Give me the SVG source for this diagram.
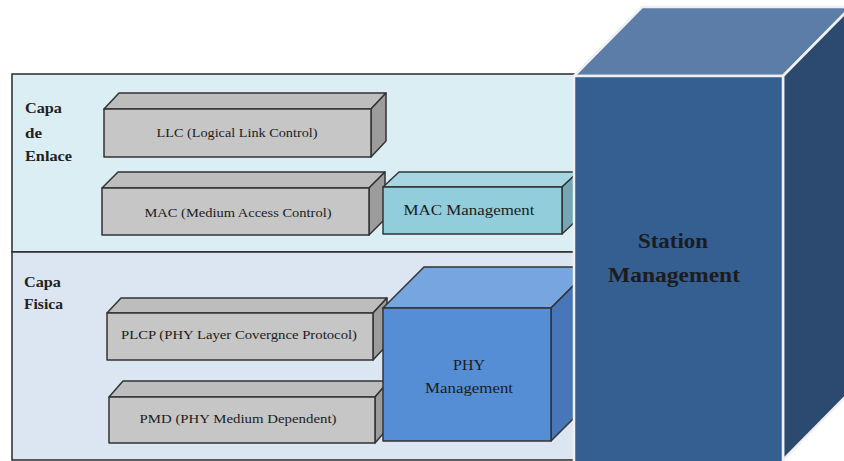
<svg xmlns="http://www.w3.org/2000/svg" width="844" height="461" viewBox="0 0 844 461">
<style>
.panel{stroke:#2a2a2a;stroke-width:1.5}
.box{stroke:#333;stroke-width:1.5;stroke-linejoin:round}
.gf{fill:#c6c6c6}.gt{fill:#bdbdbd}.gr{fill:#9c9c9c}
.lbl{font-family:"Liberation Serif","DejaVu Serif",serif;fill:#1c1c1c}
.side{font-size:14px;font-weight:bold;fill:#222}
.bt{font-size:13.5px;text-anchor:middle}
.st{stroke:#f0f0f0;stroke-width:2.5;stroke-linejoin:round}
</style>
<rect width="844" height="461" fill="#ffffff"/>
<g id="capa-enlace">
<rect class="panel" x="12" y="74" width="570" height="178" fill="#dbeef4"/>
<text class="lbl side" x="25" y="113" textLength="37" lengthAdjust="spacingAndGlyphs">Capa</text>
<text class="lbl side" x="25" y="138" textLength="17" lengthAdjust="spacingAndGlyphs">de</text>
<text class="lbl side" x="25" y="161" textLength="47" lengthAdjust="spacingAndGlyphs">Enlace</text>
</g>
<g id="capa-fisica">
<rect class="panel" x="12" y="252" width="570" height="208" fill="#dce6f2"/>
<text class="lbl side" x="24" y="287" textLength="37" lengthAdjust="spacingAndGlyphs">Capa</text>
<text class="lbl side" x="24" y="309" textLength="39" lengthAdjust="spacingAndGlyphs">Fisica</text>
</g>
<g id="llc">
<polygon class="box gt" points="104,109 119,93 386,93 371,109"/>
<polygon class="box gr" points="371,109 386,93 386,141 371,157"/>
<rect class="box gf" x="104" y="109" width="267" height="48"/>
<text class="lbl bt" x="237" y="137" textLength="161" lengthAdjust="spacingAndGlyphs">LLC (Logical Link Control)</text>
</g>
<g id="mac">
<polygon class="box gt" points="102,188 118,172 385,172 369,188"/>
<polygon class="box gr" points="369,188 385,172 385,219 369,235"/>
<rect class="box gf" x="102" y="188" width="267" height="47"/>
<text class="lbl bt" x="238" y="217" textLength="187" lengthAdjust="spacingAndGlyphs">MAC (Medium Access Control)</text>
</g>
<g id="mac-management">
<polygon class="box" fill="#a6d6e2" points="383,187 399,172 578,172 562,187"/>
<polygon class="box" fill="#74a7b3" points="562,187 578,172 578,219 562,234"/>
<rect class="box" fill="#92cddc" x="383" y="187" width="179" height="47"/>
<text class="lbl" x="469" y="215" font-size="15" text-anchor="middle" textLength="131" lengthAdjust="spacingAndGlyphs">MAC  Management</text>
</g>
<g id="plcp">
<polygon class="box gt" points="107,313 121,298 387,298 373,313"/>
<polygon class="box gr" points="373,313 387,298 387,345 373,360"/>
<rect class="box gf" x="107" y="313" width="266" height="47"/>
<text class="lbl bt" x="239" y="339" textLength="236" lengthAdjust="spacingAndGlyphs">PLCP (PHY  Layer Covergnce Protocol)</text>
</g>
<g id="pmd">
<polygon class="box gt" points="109,397 123,381 389,381 375,397"/>
<polygon class="box gr" points="375,397 389,381 389,427 375,443"/>
<rect class="box gf" x="109" y="397" width="266" height="46"/>
<text class="lbl bt" x="238" y="423" textLength="197" lengthAdjust="spacingAndGlyphs">PMD (PHY Medium Dependent)</text>
</g>
<g id="phy-management">
<polygon class="box" fill="#77a5df" points="383,308 424,267 592,267 551,308"/>
<polygon class="box" fill="#4777b6" points="551,308 592,267 592,400 551,441"/>
<rect class="box" fill="#558ed5" x="383" y="308" width="168" height="133"/>
<text class="lbl" x="469" y="370" font-size="14.5" text-anchor="middle" textLength="32" lengthAdjust="spacingAndGlyphs">PHY</text>
<text class="lbl" x="469" y="393" font-size="14.5" text-anchor="middle" textLength="88" lengthAdjust="spacingAndGlyphs">Management</text>
</g>
<g id="station-management">
<polygon class="st" fill="#5b7da7" points="574,76 642,7 851,7 783,76"/>
<polygon class="st" fill="#2c4a70" points="783,76 851,7 851,391 783,460"/>
<rect class="st" fill="#355e91" x="574" y="76" width="209" height="390"/>
<text class="lbl" x="673" y="248" font-size="20" font-weight="bold" text-anchor="middle" fill="#111" textLength="70" lengthAdjust="spacingAndGlyphs">Station</text>
<text class="lbl" x="674" y="282" font-size="20" font-weight="bold" text-anchor="middle" fill="#111" textLength="132" lengthAdjust="spacingAndGlyphs">Management</text>
</g>
</svg>
